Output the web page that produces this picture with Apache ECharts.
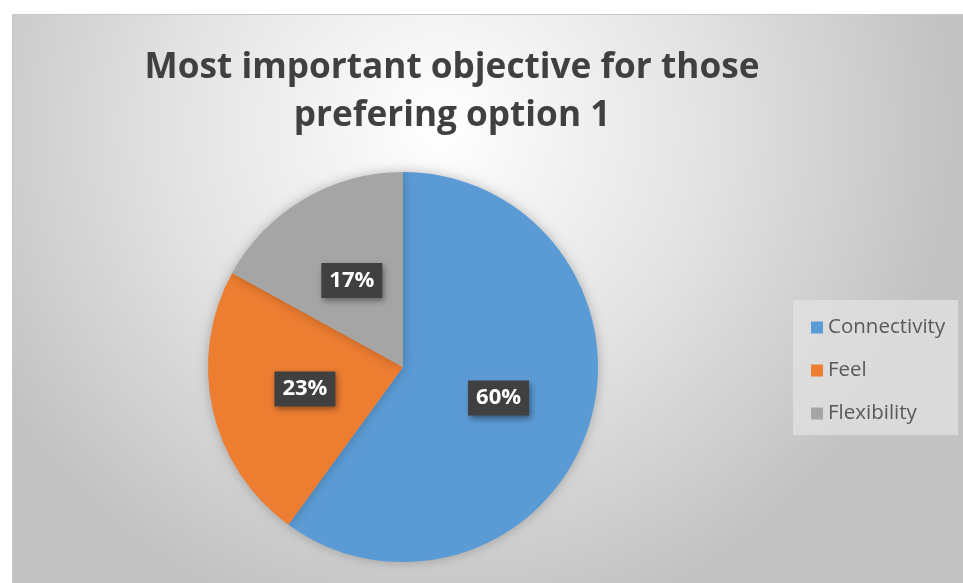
<!DOCTYPE html>
<html><head><meta charset="utf-8">
<script src="https://cdn.jsdelivr.net/npm/echarts@6/dist/echarts.min.js"></script>
<style>html,body{margin:0;padding:0;background:#fff}#c{width:963px;height:583px}</style>
</head><body><div id="c"></div>
<script>
const titleLines = ['Most important objective for those', 'prefering option 1'];
const categories = ['Connectivity', 'Feel', 'Flexibility'];
const values = [60, 23, 17];
const colors = ['#5b9bd5', '#ed7d31', '#a5a5a5'];

const chart = echarts.init(document.getElementById('c'), null, {renderer: 'canvas'});
chart.setOption({
  animation: false,
  graphic: [
    {type: 'rect', left: 12, top: 14, shape: {width: 951, height: 569},
     style: {fill: {type: 'radial', x: 0.45, y: 0.2, r: 0.9,
       colorStops: [{offset: 0, color: '#ffffff'}, {offset: 0.5, color: '#e4e4e4'}, {offset: 1, color: '#c2c2c2'}]},
       stroke: '#c8c8c8', lineWidth: 1}, z: -10, silent: true},
    {type: 'rect', left: 793, top: 300, shape: {width: 165, height: 135},
     style: {fill: 'rgba(225,225,225,0.75)'}, z: -5, silent: true}
  ],
  title: {
    text: titleLines.join('\n'),
    left: 447, top: 39, textAlign: 'center',
    textStyle: {fontFamily: 'Open Sans', fontWeight: 'bold', fontSize: 35.2, color: '#404040', lineHeight: 48}
  },
  legend: {
    orient: 'vertical', left: 806, top: 312,
    itemWidth: 12, itemHeight: 12, itemGap: 22, icon: 'rect',
    textStyle: {fontFamily: 'Open Sans', fontSize: 20.5, color: '#595959', padding: [0, 0, 0, 0]},
    data: categories
  },
  series: [{
    type: 'pie', center: [403, 367], radius: 195, startAngle: 90, clockwise: true,
    color: colors,
    itemStyle: {shadowBlur: 12, shadowColor: 'rgba(0,0,0,0.25)'},
    label: {
      position: 'inside', formatter: '{d}%',
      fontFamily: 'Open Sans', fontWeight: 'bold', fontSize: 22, color: '#ffffff',
      backgroundColor: '#404040', padding: [8, 8, 5, 8],
      shadowBlur: 6, shadowColor: 'rgba(0,0,0,0.4)', shadowOffsetX: 2, shadowOffsetY: 3
    },
    labelLine: {show: false},
    emphasis: {disabled: true},
    data: categories.map((n, i) => ({name: n, value: values[i]}))
  }]
});
</script></body></html>
